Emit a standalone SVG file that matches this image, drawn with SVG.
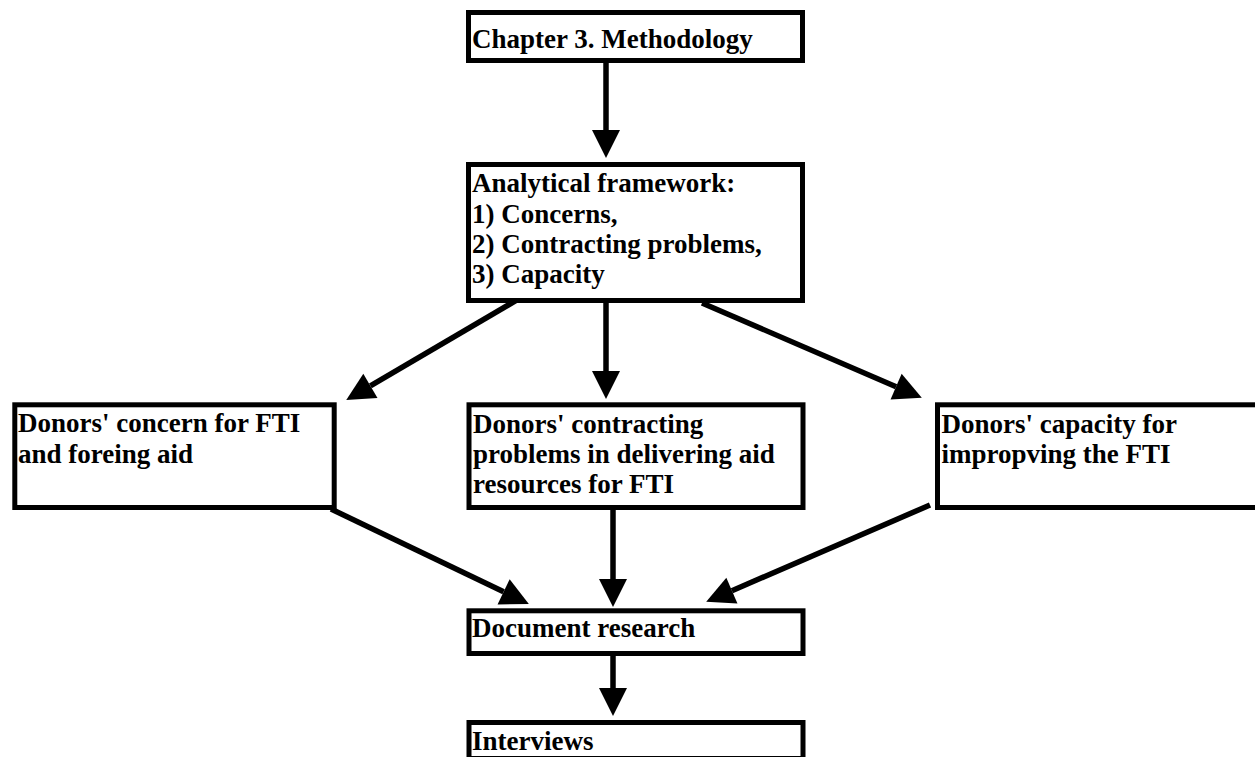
<svg xmlns="http://www.w3.org/2000/svg" width="1255" height="757" viewBox="0 0 1255 757">
  <style>
    .box { fill: #ffffff; stroke: #000000; stroke-width: 5; }
    .lbl { font-family: "Liberation Serif", "Times New Roman", serif; font-weight: bold; font-size: 27px; fill: #000000; }
    .edge { stroke: #000000; stroke-width: 5.5; fill: none; marker-end: url(#head); }
  </style>
  <defs>
    <marker id="head" markerUnits="userSpaceOnUse" markerWidth="28" markerHeight="28" refX="0" refY="13" orient="auto" viewBox="0 0 26 26" overflow="visible">
      <path d="M0,0 L26,13 L0,26 Z" fill="#000000"/>
    </marker>
  </defs>
  <rect width="1255" height="757" fill="#ffffff"/>

  <g id="connectors">
    <line class="edge" x1="606" y1="63" x2="606" y2="130"/>
    <line class="edge" x1="522" y1="297" x2="370.4" y2="385.9"/>
    <line class="edge" x1="606" y1="303" x2="606" y2="371"/>
    <line class="edge" x1="702" y1="303" x2="896.1" y2="386.7"/>
    <line class="edge" x1="331" y1="509" x2="503.6" y2="591.8"/>
    <line class="edge" x1="613" y1="510" x2="613" y2="579"/>
    <line class="edge" x1="930" y1="505" x2="731.9" y2="590.7"/>
    <line class="edge" x1="613" y1="656" x2="613" y2="688"/>
  </g>

  <g id="chapter">
    <rect class="box" x="468.5" y="12.5" width="334" height="48"/>
    <text class="lbl" x="472" y="48">Chapter 3. Methodology</text>
  </g>

  <g id="framework">
    <rect class="box" x="468.5" y="164.5" width="334" height="136"/>
    <text class="lbl" x="472" y="192">Analytical framework:</text>
    <text class="lbl" x="472" y="222.5">1) Concerns,</text>
    <text class="lbl" x="472" y="253">2) Contracting problems,</text>
    <text class="lbl" x="472" y="283">3) Capacity</text>
  </g>

  <g id="concern">
    <rect class="box" x="14.8" y="404.8" width="319.4" height="102.7"/>
    <text class="lbl" x="18" y="432">Donors' concern for FTI</text>
    <text class="lbl" x="18" y="462.5">and foreing aid</text>
  </g>

  <g id="contracting">
    <rect class="box" x="469" y="404.8" width="334" height="102.7"/>
    <text class="lbl" x="473" y="432.5">Donors' contracting</text>
    <text class="lbl" x="473" y="463">problems in delivering aid</text>
    <text class="lbl" x="473" y="493">resources for FTI</text>
  </g>

  <g id="capacity">
    <rect class="box" x="937.5" y="404.8" width="330" height="102.7"/>
    <text class="lbl" x="941.5" y="432.5">Donors' capacity for</text>
    <text class="lbl" x="941.5" y="463">impropving the FTI</text>
  </g>

  <g id="document">
    <rect class="box" x="469" y="610.8" width="334" height="42.7"/>
    <text class="lbl" x="472" y="637">Document research</text>
  </g>

  <g id="interviews">
    <rect class="box" x="469" y="722.5" width="334" height="36"/>
    <text class="lbl" x="472" y="750">Interviews</text>
  </g>
</svg>
